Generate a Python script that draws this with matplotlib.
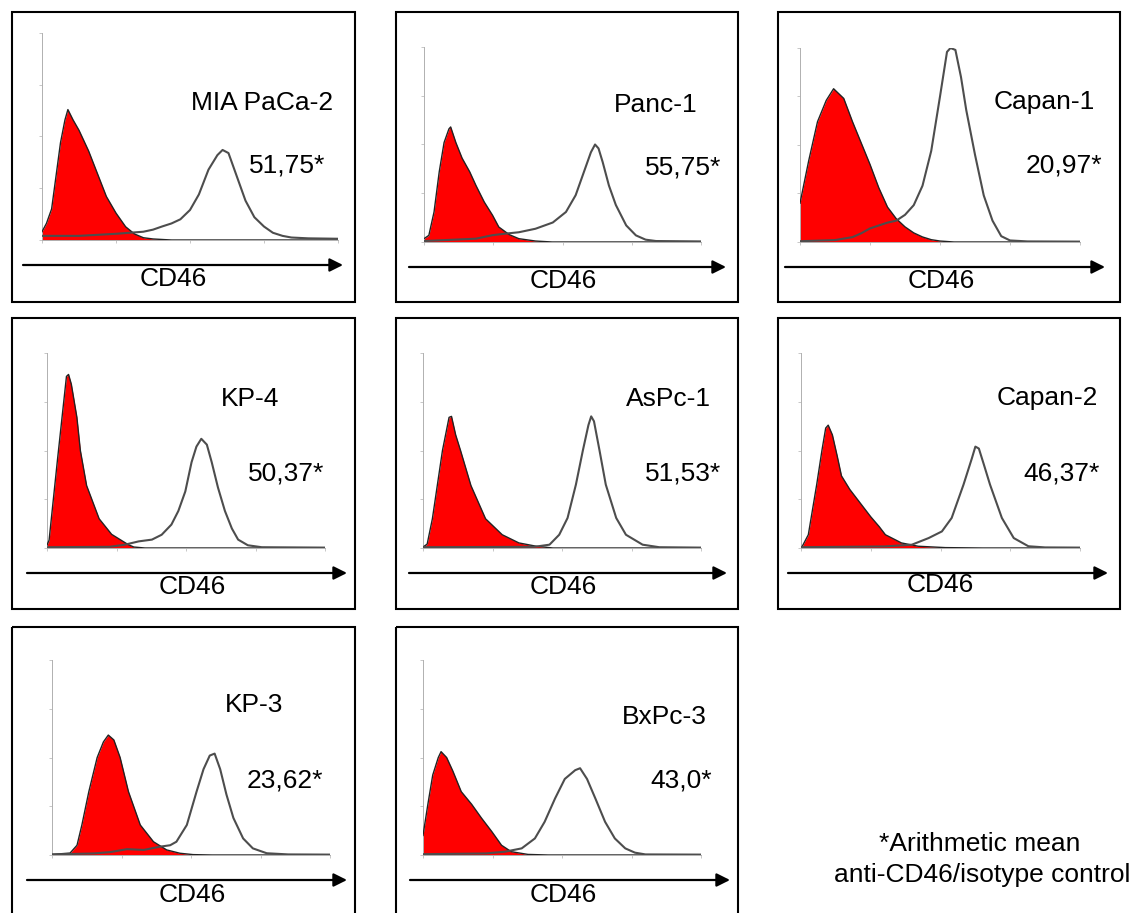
import matplotlib
matplotlib.use("Agg")
import matplotlib.pyplot as plt
from matplotlib.patches import Rectangle

# CD46 flow cytometry overlays: (log decade, relative count)
# red filled = isotype control, grey line = anti-CD46
MIA_ISO = [(0.00, 0.04), (0.06, 0.08), (0.13, 0.15), (0.25, 0.47), (0.31, 0.58), (0.35, 0.63),
           (0.42, 0.58), (0.50, 0.53), (0.63, 0.43), (0.75, 0.32), (0.87, 0.21), (1.00, 0.13),
           (1.13, 0.064), (1.25, 0.029), (1.37, 0.011), (1.50, 0.005), (1.75, 0.0), (4.0, 0.0)]
MIA_CD46 = [(0.00, 0.02), (0.50, 0.02), (1.00, 0.03), (1.37, 0.04), (1.50, 0.05), (1.62, 0.065),
            (1.75, 0.08), (1.87, 0.10), (2.00, 0.145), (2.12, 0.22), (2.25, 0.34), (2.37, 0.41),
            (2.44, 0.435), (2.52, 0.42), (2.62, 0.32), (2.75, 0.19), (2.87, 0.11), (3.00, 0.065),
            (3.12, 0.035), (3.25, 0.02), (3.37, 0.012), (3.60, 0.008), (4.00, 0.006)]

PANC_ISO = [(0.00, 0.017), (0.07, 0.034), (0.145, 0.154), (0.22, 0.36), (0.29, 0.51), (0.36, 0.58),
            (0.385, 0.59), (0.46, 0.51), (0.55, 0.43), (0.66, 0.36), (0.75, 0.29), (0.87, 0.205),
            (0.99, 0.137), (1.08, 0.077), (1.23, 0.038), (1.37, 0.017), (1.61, 0.005), (1.85, 0.0),
            (4.0, 0.0)]
PANC_CD46 = [(0.00, 0.005), (0.75, 0.017), (0.99, 0.035), (1.18, 0.043), (1.37, 0.05), (1.61, 0.068),
             (1.86, 0.10), (2.05, 0.154), (2.19, 0.24), (2.31, 0.36), (2.41, 0.46), (2.47, 0.50),
             (2.52, 0.48), (2.58, 0.41), (2.67, 0.29), (2.77, 0.19), (2.92, 0.085), (3.06, 0.034),
             (3.20, 0.012), (3.35, 0.005), (4.00, 0.003)]

CAPAN1_ISO = [(0.00, 0.20), (0.125, 0.42), (0.25, 0.62), (0.375, 0.73), (0.48, 0.79), (0.625, 0.74),
              (0.75, 0.62), (0.875, 0.51), (1.00, 0.40), (1.125, 0.28), (1.25, 0.18), (1.375, 0.12),
              (1.50, 0.078), (1.625, 0.047), (1.75, 0.026), (1.875, 0.012), (2.00, 0.005),
              (2.20, 0.0), (4.0, 0.0)]
CAPAN1_CD46 = [(0.00, 0.004), (0.50, 0.01), (0.75, 0.025), (0.875, 0.045), (1.00, 0.07), (1.25, 0.10),
               (1.375, 0.11), (1.50, 0.14), (1.625, 0.19), (1.75, 0.29), (1.875, 0.47), (2.00, 0.75),
               (2.10, 0.98), (2.15, 1.0), (2.22, 0.99), (2.30, 0.85), (2.375, 0.68), (2.50, 0.45),
               (2.625, 0.24), (2.75, 0.11), (2.875, 0.03), (3.00, 0.008), (3.25, 0.003), (4.00, 0.002)]

KP4_ISO = [(0.00, 0.015), (0.03, 0.04), (0.15, 0.45), (0.28, 0.88), (0.31, 0.89), (0.35, 0.84),
           (0.43, 0.67), (0.48, 0.50), (0.57, 0.32), (0.75, 0.15), (0.93, 0.07), (1.17, 0.017),
           (1.25, 0.005), (1.41, 0.0), (4.0, 0.0)]
KP4_CD46 = [(0.00, 0.004), (0.90, 0.006), (1.12, 0.017), (1.32, 0.034), (1.51, 0.043), (1.65, 0.068),
            (1.79, 0.12), (1.89, 0.19), (1.99, 0.29), (2.08, 0.44), (2.15, 0.52), (2.22, 0.56),
            (2.30, 0.53), (2.37, 0.44), (2.46, 0.31), (2.56, 0.19), (2.66, 0.10), (2.75, 0.043),
            (2.89, 0.014), (3.09, 0.004), (4.00, 0.002)]

ASPC_ISO = [(0.00, 0.005), (0.06, 0.02), (0.135, 0.15), (0.28, 0.50), (0.375, 0.67), (0.41, 0.675),
            (0.47, 0.58), (0.54, 0.50), (0.69, 0.32), (0.90, 0.15), (1.14, 0.068), (1.38, 0.026),
            (1.63, 0.009), (1.87, 0.0), (4.0, 0.0)]
ASPC_CD46 = [(0.00, 0.004), (1.60, 0.006), (1.82, 0.017), (1.96, 0.068), (2.08, 0.154), (2.20, 0.325),
             (2.30, 0.50), (2.38, 0.63), (2.42, 0.675), (2.46, 0.65), (2.54, 0.50), (2.63, 0.325),
             (2.78, 0.154), (2.92, 0.068), (3.16, 0.017), (3.40, 0.004), (4.00, 0.002)]

CAPAN2_ISO = [(0.00, 0.003), (0.02, 0.01), (0.105, 0.068), (0.225, 0.325), (0.30, 0.50), (0.354, 0.615),
              (0.39, 0.63), (0.45, 0.58), (0.52, 0.47), (0.58, 0.37), (0.70, 0.30), (0.85, 0.23),
              (1.00, 0.16), (1.12, 0.11), (1.21, 0.068), (1.44, 0.026), (1.68, 0.009), (2.07, 0.002),
              (2.60, 0.0), (4.0, 0.0)]
CAPAN2_CD46 = [(0.00, 0.004), (1.20, 0.008), (1.59, 0.017), (1.83, 0.051), (2.02, 0.085), (2.16, 0.154),
               (2.33, 0.325), (2.45, 0.46), (2.50, 0.52), (2.55, 0.51), (2.62, 0.43), (2.71, 0.325),
               (2.88, 0.154), (3.05, 0.051), (3.26, 0.009), (3.50, 0.003), (4.00, 0.002)]

KP3_ISO = [(0.00, 0.003), (0.26, 0.01), (0.36, 0.05), (0.43, 0.154), (0.53, 0.325), (0.65, 0.50),
           (0.74, 0.58), (0.81, 0.615), (0.89, 0.59), (0.98, 0.50), (1.10, 0.325), (1.27, 0.154),
           (1.46, 0.068), (1.65, 0.026), (1.84, 0.009), (2.03, 0.002), (2.30, 0.0), (4.0, 0.0)]
KP3_CD46 = [(0.00, 0.003), (0.60, 0.008), (0.84, 0.015), (1.08, 0.03), (1.32, 0.026), (1.56, 0.043),
            (1.70, 0.05), (1.79, 0.068), (1.94, 0.154), (2.08, 0.325), (2.18, 0.44), (2.27, 0.51),
            (2.34, 0.52), (2.42, 0.44), (2.51, 0.31), (2.61, 0.19), (2.75, 0.085), (2.89, 0.034),
            (3.09, 0.009), (3.40, 0.003), (4.00, 0.002)]

BXPC_ISO = [(0.00, 0.10), (0.07, 0.26), (0.14, 0.41), (0.22, 0.50), (0.26, 0.53), (0.34, 0.50),
            (0.43, 0.43), (0.55, 0.325), (0.70, 0.26), (0.84, 0.19), (0.99, 0.12), (1.13, 0.05),
            (1.27, 0.017), (1.51, 0.003), (1.80, 0.0), (4.0, 0.0)]
BXPC_CD46 = [(0.00, 0.004), (0.90, 0.008), (1.18, 0.017), (1.42, 0.034), (1.61, 0.085), (1.75, 0.17),
             (1.90, 0.29), (2.04, 0.39), (2.19, 0.435), (2.26, 0.445), (2.36, 0.39), (2.48, 0.29),
             (2.62, 0.17), (2.76, 0.085), (2.91, 0.034), (3.05, 0.012), (3.20, 0.003), (4.00, 0.002)]

cell_lines = ["MIA PaCa-2", "Panc-1", "Capan-1", "KP-4", "AsPc-1", "Capan-2", "KP-3", "BxPc-3"]
ratios = ["51,75*", "55,75*", "20,97*", "50,37*", "51,53*", "46,37*", "23,62*", "43,0*"]
iso_curves = [MIA_ISO, PANC_ISO, CAPAN1_ISO, KP4_ISO, ASPC_ISO, CAPAN2_ISO, KP3_ISO, BXPC_ISO]
cd46_curves = [MIA_CD46, PANC_CD46, CAPAN1_CD46, KP4_CD46, ASPC_CD46, CAPAN2_CD46, KP3_CD46, BXPC_CD46]

W, H = 1142, 913
FONT = "Liberation Sans"
FS = 19

# layout in pixels
boxes = [(12, 355, 12, 302), (396, 738, 12, 302), (778, 1120, 12, 302),
         (12, 355, 318, 609), (396, 738, 318, 609), (778, 1120, 318, 609),
         (12, 355, 627, 925), (396, 738, 627, 925)]
plot_rects = [(42, 338, 33, 240), (424, 701, 47, 242), (800, 1080, 48, 242),
              (47, 325, 353, 548), (423, 701, 353, 548), (801, 1080, 353, 548),
              (52, 330, 660, 855), (423, 701, 660, 855)]
arrows = [(23, 343, 265), (409, 726, 267), (785, 1105, 267),
          (27, 347, 573), (409, 727, 573), (788, 1108, 573),
          (27, 347, 880), (410, 730, 880)]
cd46_pos = [(173, 277), (563, 278), (941, 278), (192, 585), (563, 585), (940, 583),
            (192, 892), (563, 892)]
name_pos = [(333, 100), (698, 102), (1095, 100), (279, 396), (711, 396), (1098, 396),
            (283, 703), (707, 715)]
ratio_pos = [(325, 163), (721, 165), (1102, 163), (324, 471), (721, 471), (1100, 471),
             (323, 778), (712, 778)]

fig = plt.figure(figsize=(W / 100, H / 100), dpi=100)
bg = fig.add_axes([0, 0, 1, 1])
bg.set_xlim(0, W)
bg.set_ylim(H, 0)
bg.axis("off")

half_cap = 9.5  # px from text centre to baseline

for i in range(8):
    x0, x1, y0, y1 = boxes[i]
    bg.add_patch(Rectangle((x0, y0), x1 - x0, y1 - y0, fill=False, ec="black", lw=1.5))

    a0, a1, ay = arrows[i]
    bg.annotate("", xy=(a1, ay), xytext=(a0, ay),
                arrowprops=dict(arrowstyle="-|>", color="black", lw=1.6,
                                mutation_scale=20, shrinkA=0, shrinkB=0))
    cx, cy = cd46_pos[i]
    bg.text(cx, cy + half_cap, "CD46", ha="center", va="baseline", fontsize=FS, family=FONT)
    nx, ny = name_pos[i]
    bg.text(nx, ny + half_cap, cell_lines[i], ha="right", va="baseline", fontsize=FS, family=FONT)
    rx, ry = ratio_pos[i]
    bg.text(rx, ry + half_cap, ratios[i], ha="right", va="baseline", fontsize=FS, family=FONT)

    # histogram axes
    px0, px1, ptop, pbase = plot_rects[i]
    ax = fig.add_axes([px0 / W, 1 - pbase / H, (px1 - px0) / W, (pbase - ptop) / H])
    ax.set_facecolor("none")
    ax.set_xlim(0, 4)
    ax.set_ylim(0, 1)
    xi = [p[0] for p in iso_curves[i]]
    yi = [p[1] for p in iso_curves[i]]
    xc = [p[0] for p in cd46_curves[i]]
    yc = [p[1] for p in cd46_curves[i]]
    ax.fill_between(xi, yi, 0, color="#ff0000", lw=0, zorder=2)
    ax.plot(xi, yi, color="#222222", lw=1.0, zorder=3)
    ax.plot(xc, yc, color="#4d4d4d", lw=1.5, zorder=4)
    for s in ["top", "right"]:
        ax.spines[s].set_visible(False)
    for s in ["left", "bottom"]:
        ax.spines[s].set_color("#b0b0b0")
        ax.spines[s].set_linewidth(0.7)
    ax.set_xticks([0, 1, 2, 3, 4])
    ax.set_yticks([0, 0.25, 0.5, 0.75, 1.0])
    ax.tick_params(length=2, width=0.5, color="#b0b0b0", labelbottom=False, labelleft=False)

bg.text(980, 851, "*Arithmetic mean", ha="center", va="baseline", fontsize=FS, family=FONT)
bg.text(982, 882, "anti-CD46/isotype control", ha="center", va="baseline", fontsize=FS, family=FONT)

fig.savefig("out.png", dpi=100)
